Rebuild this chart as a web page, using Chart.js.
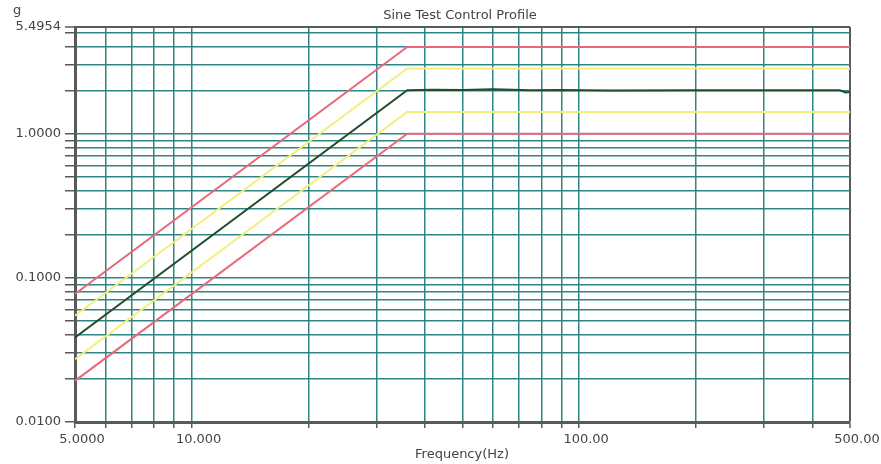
<!DOCTYPE html>
<html>
<head>
<meta charset="utf-8">
<script src="https://cdn.jsdelivr.net/npm/chart.js@4/dist/chart.umd.min.js"></script>
<style>
  body { margin: 0; background: #fff; }
  canvas { display: block; }
</style>
</head>
<body>
<canvas id="chartSine" width="881" height="464"></canvas>
<script>
// frequency breakpoints (Hz) of the profile and its limit lines
const profileFreq = [5, 36, 500];
const upperAbort = [0.0772, 4.0, 4.0];
const upperAlarm = [0.0546, 2.83, 2.83];
const lowerAlarm = [0.0273, 1.414, 1.414];
const lowerAbort = [0.0193, 1.0, 1.0];

// measured control trace
const controlFreq = [5, 36, 42, 50, 60, 75, 90, 120, 200, 300, 470, 488, 500];
const controlVals = [0.0386, 2.0, 2.02, 2.01, 2.03, 2.0, 2.01, 1.99, 2.0, 2.0, 2.0, 1.93, 1.95];

// axis ticks
const xTicks = [5, 6, 7, 8, 9, 10, 20, 30, 40, 50, 60, 70, 80, 90, 100, 200, 300, 400, 500];
const xLabels = { 5: '5.0000', 10: '10.000', 100: '100.00', 500: '500.00' };
const yTicks = [0.01, 0.02, 0.03, 0.04, 0.05, 0.06, 0.07, 0.08, 0.09,
                0.1, 0.2, 0.3, 0.4, 0.5, 0.6, 0.7, 0.8, 0.9,
                1, 2, 3, 4, 5, 5.4954];
const yLabels = { 0.01: '0.0100', 0.1: '0.1000', 1: '1.0000', 5.4954: '5.4954' };

const toPoints = (xs, ys) => xs.map((x, i) => ({ x: x, y: ys[i] }));

const FONT = 'DejaVu Sans';
const GRID = '#2f8585';
const FRAME = '#5a5a5a';

const textos = {
    id: 'textos',
    afterDraw(chart) {
        const ctx = chart.ctx;
        ctx.save();
        ctx.fillStyle = '#444';
        ctx.font = `13px "${FONT}"`;
        ctx.textAlign = 'center';
        ctx.textBaseline = 'middle';
        ctx.fillText('Sine Test Control Profile', 460, 16);
        ctx.fillText('Frequency(Hz)', 462, 455);
        ctx.textAlign = 'left';
        ctx.fillText('g', 13, 11);
        ctx.restore();
    }
};

const ctx = document.getElementById('chartSine');

window.chartSine = new Chart(ctx, {
    type: 'line',
    data: {
        datasets: [
            { label: 'Control', data: toPoints(controlFreq, controlVals), borderColor: '#214d2b' },
            { label: 'Upper alarm', data: toPoints(profileFreq, upperAlarm), borderColor: '#f3ef7a' },
            { label: 'Lower alarm', data: toPoints(profileFreq, lowerAlarm), borderColor: '#f3ef7a' },
            { label: 'Upper abort', data: toPoints(profileFreq, upperAbort), borderColor: '#e8697a' },
            { label: 'Lower abort', data: toPoints(profileFreq, lowerAbort), borderColor: '#e8697a' }
        ]
    },
    options: {
        responsive: false,
        animation: false,
        devicePixelRatio: 1,
        layout: { padding: { top: 27, right: 31, left: 0, bottom: 0 } },
        elements: {
            point: { radius: 0 },
            line: { borderWidth: 2, tension: 0 }
        },
        plugins: {
            legend: { display: false },
            tooltip: { enabled: false },
            title: { display: false }
        },
        scales: {
            x: {
                type: 'logarithmic',
                min: 5,
                max: 500,
                afterBuildTicks: s => { s.ticks = xTicks.map(v => ({ value: v })); },
                afterFit: s => { s.height = 42; },
                ticks: {
                    autoSkip: false,
                    maxRotation: 0,
                    minRotation: 0,
                    padding: 4,
                    labelOffset: 7,
                    color: '#444',
                    font: { family: FONT, size: 13 },
                    callback: v => xLabels[v] || ''
                },
                grid: {
                    color: c => (c.tick && c.tick.value === 500) ? FRAME : GRID,
                    lineWidth: c => (c.tick && c.tick.value === 500) ? 2 : 1.5,
                    tickColor: FRAME,
                    tickLength: 6,
                    tickWidth: 1.5
                },
                border: { color: FRAME, width: 3 }
            },
            y: {
                type: 'logarithmic',
                min: 0.01,
                max: 5.4954,
                afterBuildTicks: s => { s.ticks = yTicks.map(v => ({ value: v })); },
                afterFit: s => { s.width = 75; },
                ticks: {
                    autoSkip: false,
                    padding: 4,
                    color: '#444',
                    font: { family: FONT, size: 13 },
                    callback: v => yLabels[v] || ''
                },
                grid: {
                    color: c => (c.tick && c.tick.value === 5.4954) ? FRAME : GRID,
                    lineWidth: c => (c.tick && c.tick.value === 5.4954) ? 2 : 1.5,
                    tickColor: FRAME,
                    tickLength: 10,
                    tickWidth: 1.5
                },
                border: { color: FRAME, width: 3 }
            }
        }
    },
    plugins: [textos]
});
</script>
</body>
</html>
